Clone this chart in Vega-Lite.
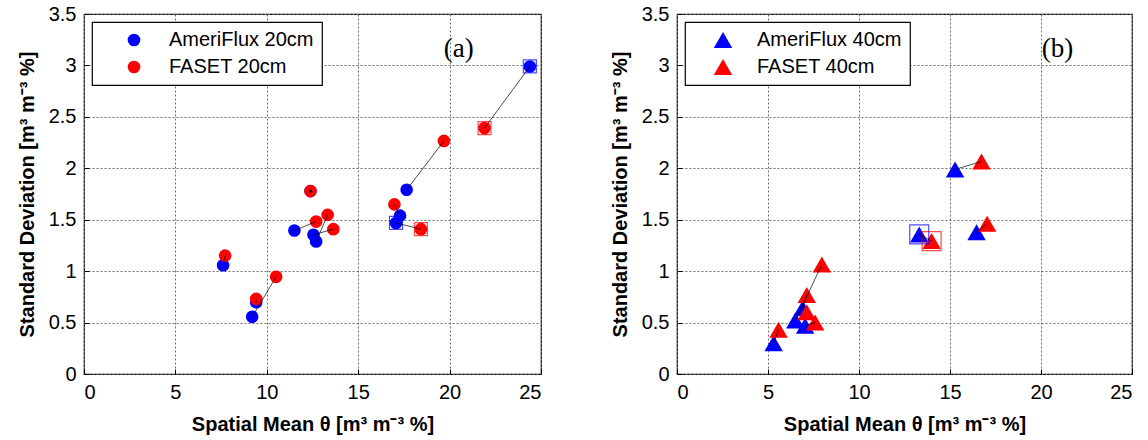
{
  "$schema": "https://vega.github.io/schema/vega-lite/v6.json",
  "background": "white",
  "padding": {"left": 16, "top": 3, "right": 5, "bottom": 5},
  "bounds": "flush",
  "spacing": 136,
  "config": {
    "font": "Liberation Sans",
    "view": {"stroke": "black", "strokeWidth": 1.2},
    "axis": {
      "labelFont": "Liberation Sans", "labelFontSize": 20, "labelColor": "black",
      "titleFont": "Liberation Sans", "titleFontSize": 20, "titleFontWeight": "bold", "titleColor": "black",
      "grid": true, "gridColor": "#6e6e6e", "gridDash": [2, 2], "gridWidth": 1,
      "ticks": true, "tickSize": -5, "tickColor": "black", "tickWidth": 1,
      "domain": false, "labelPadding": 13, "format": "~g"
    },
    "axisX": {"titlePadding": 12},
    "axisY": {"titlePadding": 11},
    "legend": {
      "orient": "top-left", "offset": 8, "padding": 8,
      "strokeColor": "black", "strokeWidth": 1.2, "fillColor": "white",
      "labelFont": "Liberation Sans", "labelFontSize": 20, "labelColor": "black",
      "labelOffset": 25, "rowPadding": 7, "symbolStrokeWidth": 0
    }
  },
  "datasets": {
    "d20": [
      {"pair": "A", "series": "AmeriFlux 20cm", "x": 7.61, "y": 1.058, "box": false},
      {"pair": "B", "series": "AmeriFlux 20cm", "x": 9.2, "y": 0.556, "box": false},
      {"pair": "C", "series": "AmeriFlux 20cm", "x": 9.42, "y": 0.698, "box": false},
      {"pair": "D", "series": "AmeriFlux 20cm", "x": 11.51, "y": 1.395, "box": false},
      {"pair": "E", "series": "AmeriFlux 20cm", "x": 12.55, "y": 1.354, "box": false},
      {"pair": "F", "series": "AmeriFlux 20cm", "x": 12.7, "y": 1.289, "box": false},
      {"pair": "G", "series": "AmeriFlux 20cm", "x": 12.39, "y": 1.778, "box": false},
      {"pair": "H", "series": "AmeriFlux 20cm", "x": 17.29, "y": 1.54, "box": false},
      {"pair": "I", "series": "AmeriFlux 20cm", "x": 17.07, "y": 1.469, "box": true},
      {"pair": "J", "series": "AmeriFlux 20cm", "x": 17.65, "y": 1.791, "box": false},
      {"pair": "K", "series": "AmeriFlux 20cm", "x": 24.39, "y": 2.99, "box": true},
      {"pair": "A", "series": "FASET 20cm", "x": 7.72, "y": 1.151, "box": false},
      {"pair": "B", "series": "FASET 20cm", "x": 10.51, "y": 0.945, "box": false},
      {"pair": "C", "series": "FASET 20cm", "x": 9.42, "y": 0.73, "box": false},
      {"pair": "D", "series": "FASET 20cm", "x": 12.7, "y": 1.482, "box": false},
      {"pair": "E", "series": "FASET 20cm", "x": 13.64, "y": 1.408, "box": false},
      {"pair": "F", "series": "FASET 20cm", "x": 13.33, "y": 1.547, "box": false},
      {"pair": "G", "series": "FASET 20cm", "x": 12.39, "y": 1.778, "box": false},
      {"pair": "H", "series": "FASET 20cm", "x": 16.98, "y": 1.649, "box": false},
      {"pair": "I", "series": "FASET 20cm", "x": 18.43, "y": 1.408, "box": true},
      {"pair": "J", "series": "FASET 20cm", "x": 19.69, "y": 2.266, "box": false},
      {"pair": "K", "series": "FASET 20cm", "x": 21.91, "y": 2.391, "box": true}
    ],
    "d40": [
      {"pair": "R1", "series": "AmeriFlux 40cm", "x": 5.31, "y": 0.3, "box": false},
      {"pair": "R2", "series": "AmeriFlux 40cm", "x": 6.5, "y": 0.52, "box": false},
      {"pair": "R3", "series": "AmeriFlux 40cm", "x": 6.9, "y": 0.64, "box": false},
      {"pair": "R4", "series": "AmeriFlux 40cm", "x": 7.04, "y": 0.47, "box": false},
      {"pair": "R6", "series": "AmeriFlux 40cm", "x": 13.31, "y": 1.357, "box": true},
      {"pair": "R7", "series": "AmeriFlux 40cm", "x": 15.28, "y": 1.989, "box": false},
      {"pair": "R8", "series": "AmeriFlux 40cm", "x": 16.46, "y": 1.378, "box": false},
      {"pair": "R1", "series": "FASET 40cm", "x": 5.58, "y": 0.43, "box": false},
      {"pair": "R2", "series": "FASET 40cm", "x": 7.96, "y": 1.064, "box": false},
      {"pair": "R3", "series": "FASET 40cm", "x": 7.13, "y": 0.767, "box": false},
      {"pair": "R4", "series": "FASET 40cm", "x": 7.59, "y": 0.5, "box": false},
      {"pair": "R5", "series": "FASET 40cm", "x": 7.13, "y": 0.6, "box": false},
      {"pair": "R6", "series": "FASET 40cm", "x": 13.99, "y": 1.292, "box": true},
      {"pair": "R7", "series": "FASET 40cm", "x": 16.73, "y": 2.066, "box": false},
      {"pair": "R8", "series": "FASET 40cm", "x": 17.04, "y": 1.461, "box": false}
    ]
  },
  "hconcat": [
    {
      "width": 457,
      "height": 360,
      "layer": [
        {
          "data": {"name": "d20"},
          "mark": {"type": "point", "shape": "circle", "filled": true, "size": 160, "opacity": 1},
          "encoding": {
            "x": {"field": "x", "type": "quantitative", "scale": {"domain": [0, 25], "nice": false},
                  "axis": {"values": [0, 5, 10, 15, 20, 25], "title": "Spatial Mean θ [m³ m⁻³ %]"}},
            "y": {"field": "y", "type": "quantitative", "scale": {"domain": [0, 3.5], "nice": false},
                  "axis": {"values": [0, 0.5, 1, 1.5, 2, 2.5, 3, 3.5], "title": "Standard Deviation [m³ m⁻³ %]"}},
            "color": {"field": "series", "type": "nominal",
                      "scale": {"domain": ["AmeriFlux 20cm", "FASET 20cm"], "range": ["#0000ff", "#ff0000"]},
                      "legend": {"title": null, "symbolOffset": 24, "symbolSize": 160}}
          }
        },
        {
          "data": {"name": "d20"},
          "transform": [{"filter": "datum.box"}],
          "mark": {"type": "point", "shape": "square", "filled": false, "size": 169, "strokeWidth": 1.2, "opacity": 0.7},
          "encoding": {
            "x": {"field": "x", "type": "quantitative"},
            "y": {"field": "y", "type": "quantitative"},
            "color": {"field": "series", "type": "nominal", "legend": null}
          }
        },
        {
          "data": {"name": "d20"},
          "mark": {"type": "line", "color": "black", "strokeWidth": 0.7},
          "encoding": {
            "x": {"field": "x", "type": "quantitative"},
            "y": {"field": "y", "type": "quantitative"},
            "detail": {"field": "pair"}
          }
        },
        {
          "data": {"values": [{"x": 12.39, "y": 1.778}]},
          "mark": {"type": "point", "shape": "circle", "filled": true, "size": 10, "color": "black", "opacity": 1},
          "encoding": {
            "x": {"field": "x", "type": "quantitative"},
            "y": {"field": "y", "type": "quantitative"}
          }
        },
        {
          "data": {"values": [{"label": "(a)", "x": 20.5, "y": 3.16}]},
          "mark": {"type": "text", "font": "Liberation Serif", "fontSize": 27, "color": "black"},
          "encoding": {
            "x": {"field": "x", "type": "quantitative"},
            "y": {"field": "y", "type": "quantitative"},
            "text": {"field": "label"}
          }
        }
      ]
    },
    {
      "width": 455,
      "height": 360,
      "layer": [
        {
          "data": {"name": "d40"},
          "mark": {"type": "point", "shape": "triangle-up", "filled": true, "size": 340, "opacity": 1},
          "encoding": {
            "x": {"field": "x", "type": "quantitative", "scale": {"domain": [0, 25], "nice": false},
                  "axis": {"values": [0, 5, 10, 15, 20, 25], "title": "Spatial Mean θ [m³ m⁻³ %]"}},
            "y": {"field": "y", "type": "quantitative", "scale": {"domain": [0, 3.5], "nice": false},
                  "axis": {"values": [0, 0.5, 1, 1.5, 2, 2.5, 3, 3.5], "title": "Standard Deviation [m³ m⁻³ %]"}},
            "color": {"field": "series", "type": "nominal",
                      "scale": {"domain": ["AmeriFlux 40cm", "FASET 40cm"], "range": ["#0000ff", "#ff0000"]},
                      "legend": {"title": null, "symbolOffset": 20, "symbolSize": 340, "labelOffset": 24}}
          }
        },
        {
          "data": {"name": "d40"},
          "transform": [{"filter": "datum.box"}],
          "mark": {"type": "point", "shape": "square", "filled": false, "size": 361, "strokeWidth": 1.2, "opacity": 0.7},
          "encoding": {
            "x": {"field": "x", "type": "quantitative"},
            "y": {"field": "y", "type": "quantitative"},
            "color": {"field": "series", "type": "nominal", "legend": null}
          }
        },
        {
          "data": {"name": "d40"},
          "mark": {"type": "line", "color": "black", "strokeWidth": 0.7},
          "encoding": {
            "x": {"field": "x", "type": "quantitative"},
            "y": {"field": "y", "type": "quantitative"},
            "detail": {"field": "pair"}
          }
        },
        {
          "data": {"values": [{"label": "(b)", "x": 20.9, "y": 3.16}]},
          "mark": {"type": "text", "font": "Liberation Serif", "fontSize": 27, "color": "black"},
          "encoding": {
            "x": {"field": "x", "type": "quantitative"},
            "y": {"field": "y", "type": "quantitative"},
            "text": {"field": "label"}
          }
        }
      ]
    }
  ],
  "resolve": {"scale": {"color": "independent"}, "legend": {"color": "independent"}}
}
